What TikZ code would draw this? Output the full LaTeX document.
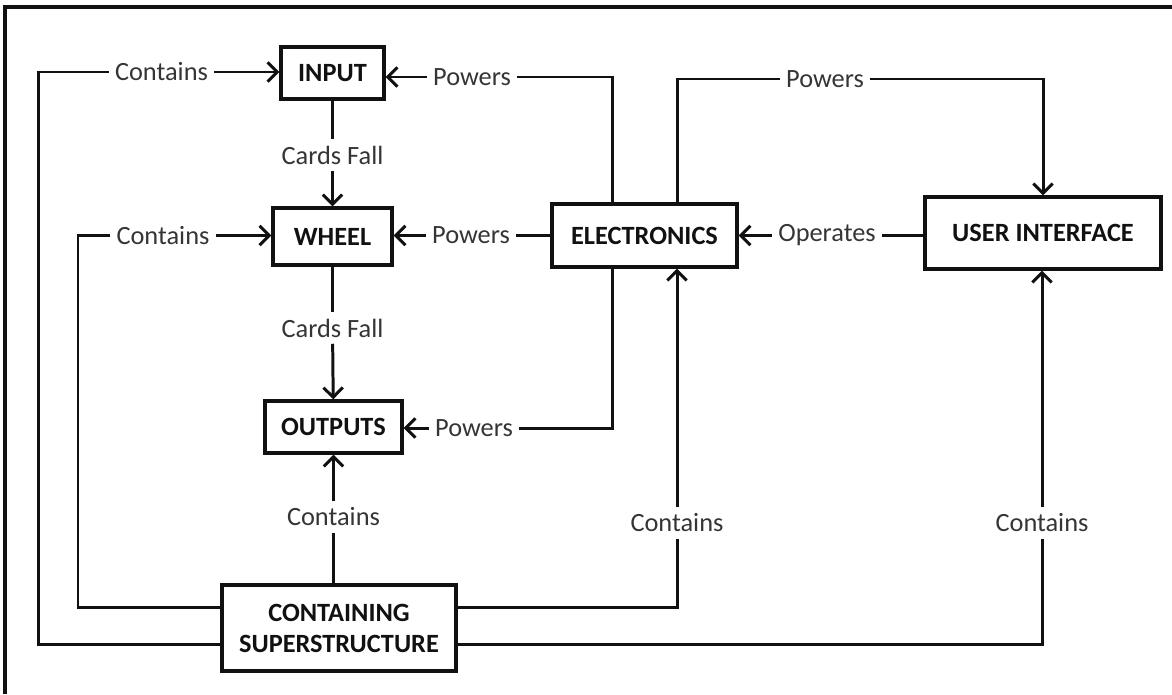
\documentclass[tikz,border=0pt]{standalone}
\usepackage{fontspec}
\setmainfont{Carlito}
\usetikzlibrary{arrows.meta,positioning,calc}
\definecolor{Ink}{HTML}{111111}

\begin{document}
\begin{tikzpicture}[x=1cm,y=1cm,
  blk/.style={draw=Ink,line width=1.9pt,inner sep=2pt,align=center,font=\fontsize{15}{17.6}\selectfont\bfseries,text=Ink},
  lbl/.style={inner sep=3.5pt,font=\fontsize{15}{18}\selectfont,text=Ink!85},
  link/.style={draw=Ink,line width=1.7pt},
  feed/.style={link,-{Straight Barb[length=5.5pt,width=11pt,line width=1.7pt]}}]
\useasboundingbox (0,0) rectangle (23.44,-13.88);
\draw[Ink,line width=2.2pt] (0.1,-13.88) -- (0.1,-0.14) -- (23.44,-0.14);
\node[blk,minimum width=2.06cm,minimum height=1.04cm] (input) at (6.65,-1.46) {INPUT};
\node[blk,minimum width=2.38cm,minimum height=1.14cm] (wheel) at (6.65,-4.73) {WHEEL};
\node[blk,minimum width=2.74cm,minimum height=1.04cm] (outputs) at (6.67,-8.54) {OUTPUTS};
\node[blk,minimum width=3.70cm,minimum height=1.26cm] (elec) at (12.89,-4.71) {ELECTRONICS};
\node[blk,minimum width=4.72cm,minimum height=1.44cm] (ui) at (20.86,-4.66) {USER INTERFACE};
\node[blk,minimum width=4.68cm,minimum height=1.72cm] (super) at (6.78,-12.56) {CONTAINING\\SUPERSTRUCTURE};
\node[lbl] (cIn) at (3.23,-1.44) {Contains};
\node[lbl] (pIn) at (9.44,-1.54) {Powers};
\node[lbl] (cf1) at (6.65,-3.10) {Cards Fall};
\node[lbl] (cWh) at (3.26,-4.71) {Contains};
\node[lbl] (pWh) at (9.42,-4.71) {Powers};
\node[lbl] (cf2) at (6.65,-6.56) {Cards Fall};
\node[lbl] (pOut) at (9.48,-8.56) {Powers};
\node[lbl] (cOut) at (6.67,-10.34) {Contains};
\node[lbl] (pUI) at (16.50,-1.58) {Powers};
\node[lbl] (op) at (16.54,-4.71) {Operates};
\node[lbl] (cEl) at (13.54,-10.46) {Contains};
\node[lbl] (cUI) at (20.84,-10.46) {Contains};
\coordinate (farL) at (0.77,0);
\coordinate (nearL) at (1.56,0);
\coordinate (elL) at (12.24,0);
\draw[link] ([yshift=-0.33cm]super.west) -| (farL |- cIn) -- (cIn);
\draw[feed] (cIn) -- (cIn -| input.west);
\draw[link] ([yshift=0.41cm]super.west) -| (nearL |- cWh) -- (cWh);
\draw[feed] (cWh) -- (cWh -| wheel.west);
\draw[link] (input) -- (cf1);
\draw[feed] (cf1) -- (wheel);
\draw[link] (wheel) -- (cf2);
\draw[feed] (cf2) -- (outputs);
\draw[link] (cOut |- super.north) -- (cOut);
\draw[feed] (cOut) -- (cOut |- outputs.south);
\draw[link] (elec.north -| elL) |- (pIn);
\draw[feed] (pIn) -- (pIn -| input.east);
\draw[link] (elec) -- (pWh);
\draw[feed] (pWh) -- (pWh -| wheel.east);
\draw[link] (elec.south -| elL) |- (pOut);
\draw[feed] (pOut) -- (pOut -| outputs.east);
\draw[link] (elec.north -| cEl) |- (pUI);
\draw[feed] (pUI) -| (ui);
\draw[link] (ui.west |- op) -- (op);
\draw[feed] (op) -- (op -| elec.east);
\draw[link] ([yshift=0.41cm]super.east) -| (cEl);
\draw[feed] (cEl) -- (cEl |- elec.south);
\draw[link] ([yshift=-0.33cm]super.east) -| (cUI);
\draw[feed] (cUI) -- (cUI |- ui.south);
\end{tikzpicture}
\end{document}
